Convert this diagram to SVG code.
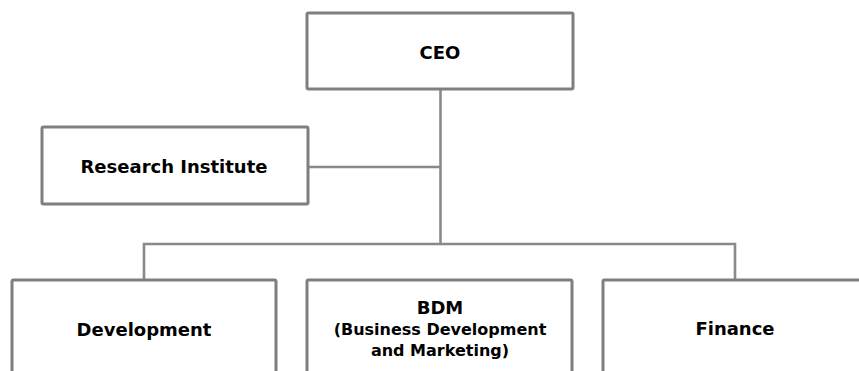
<svg xmlns="http://www.w3.org/2000/svg" width="859" height="371" viewBox="0 0 859 371">
<style>
.box{fill:#fff;stroke:#7f7f7f;stroke-width:3;}
.con{fill:none;stroke:#898989;stroke-width:2.6;}
.t{font-family:"DejaVu Sans",sans-serif;font-weight:bold;font-size:18px;fill:#000;text-anchor:middle;}
.s{font-size:16px;}
</style>
<rect width="859" height="371" fill="#fff"/>
<g id="connectors">
<path class="con" d="M440.5 89 V244"/>
<path class="con" d="M308 167 H440.5"/>
<path class="con" d="M144 280 V244 H735 V280"/>
</g>
<g id="ceo">
<rect class="box" x="307" y="13" width="266" height="76" rx="1.5"/>
<text class="t" x="440" y="59">CEO</text>
</g>
<g id="research">
<rect class="box" x="42" y="127" width="266" height="77" rx="1.5"/>
<text class="t" x="174" y="173">Research Institute</text>
</g>
<g id="development">
<rect class="box" x="12" y="280" width="264" height="100" rx="1.5"/>
<text class="t" x="144" y="336">Development</text>
</g>
<g id="bdm">
<rect class="box" x="307" y="280" width="265" height="100" rx="1.5"/>
<text class="t" x="440" y="314">BDM</text>
<text class="t s" x="440" y="335">(Business Development</text>
<text class="t s" x="440" y="356">and Marketing)</text>
</g>
<g id="finance">
<rect class="box" x="603" y="280" width="264" height="100" rx="1.5"/>
<text class="t" x="735" y="335">Finance</text>
</g>
</svg>
